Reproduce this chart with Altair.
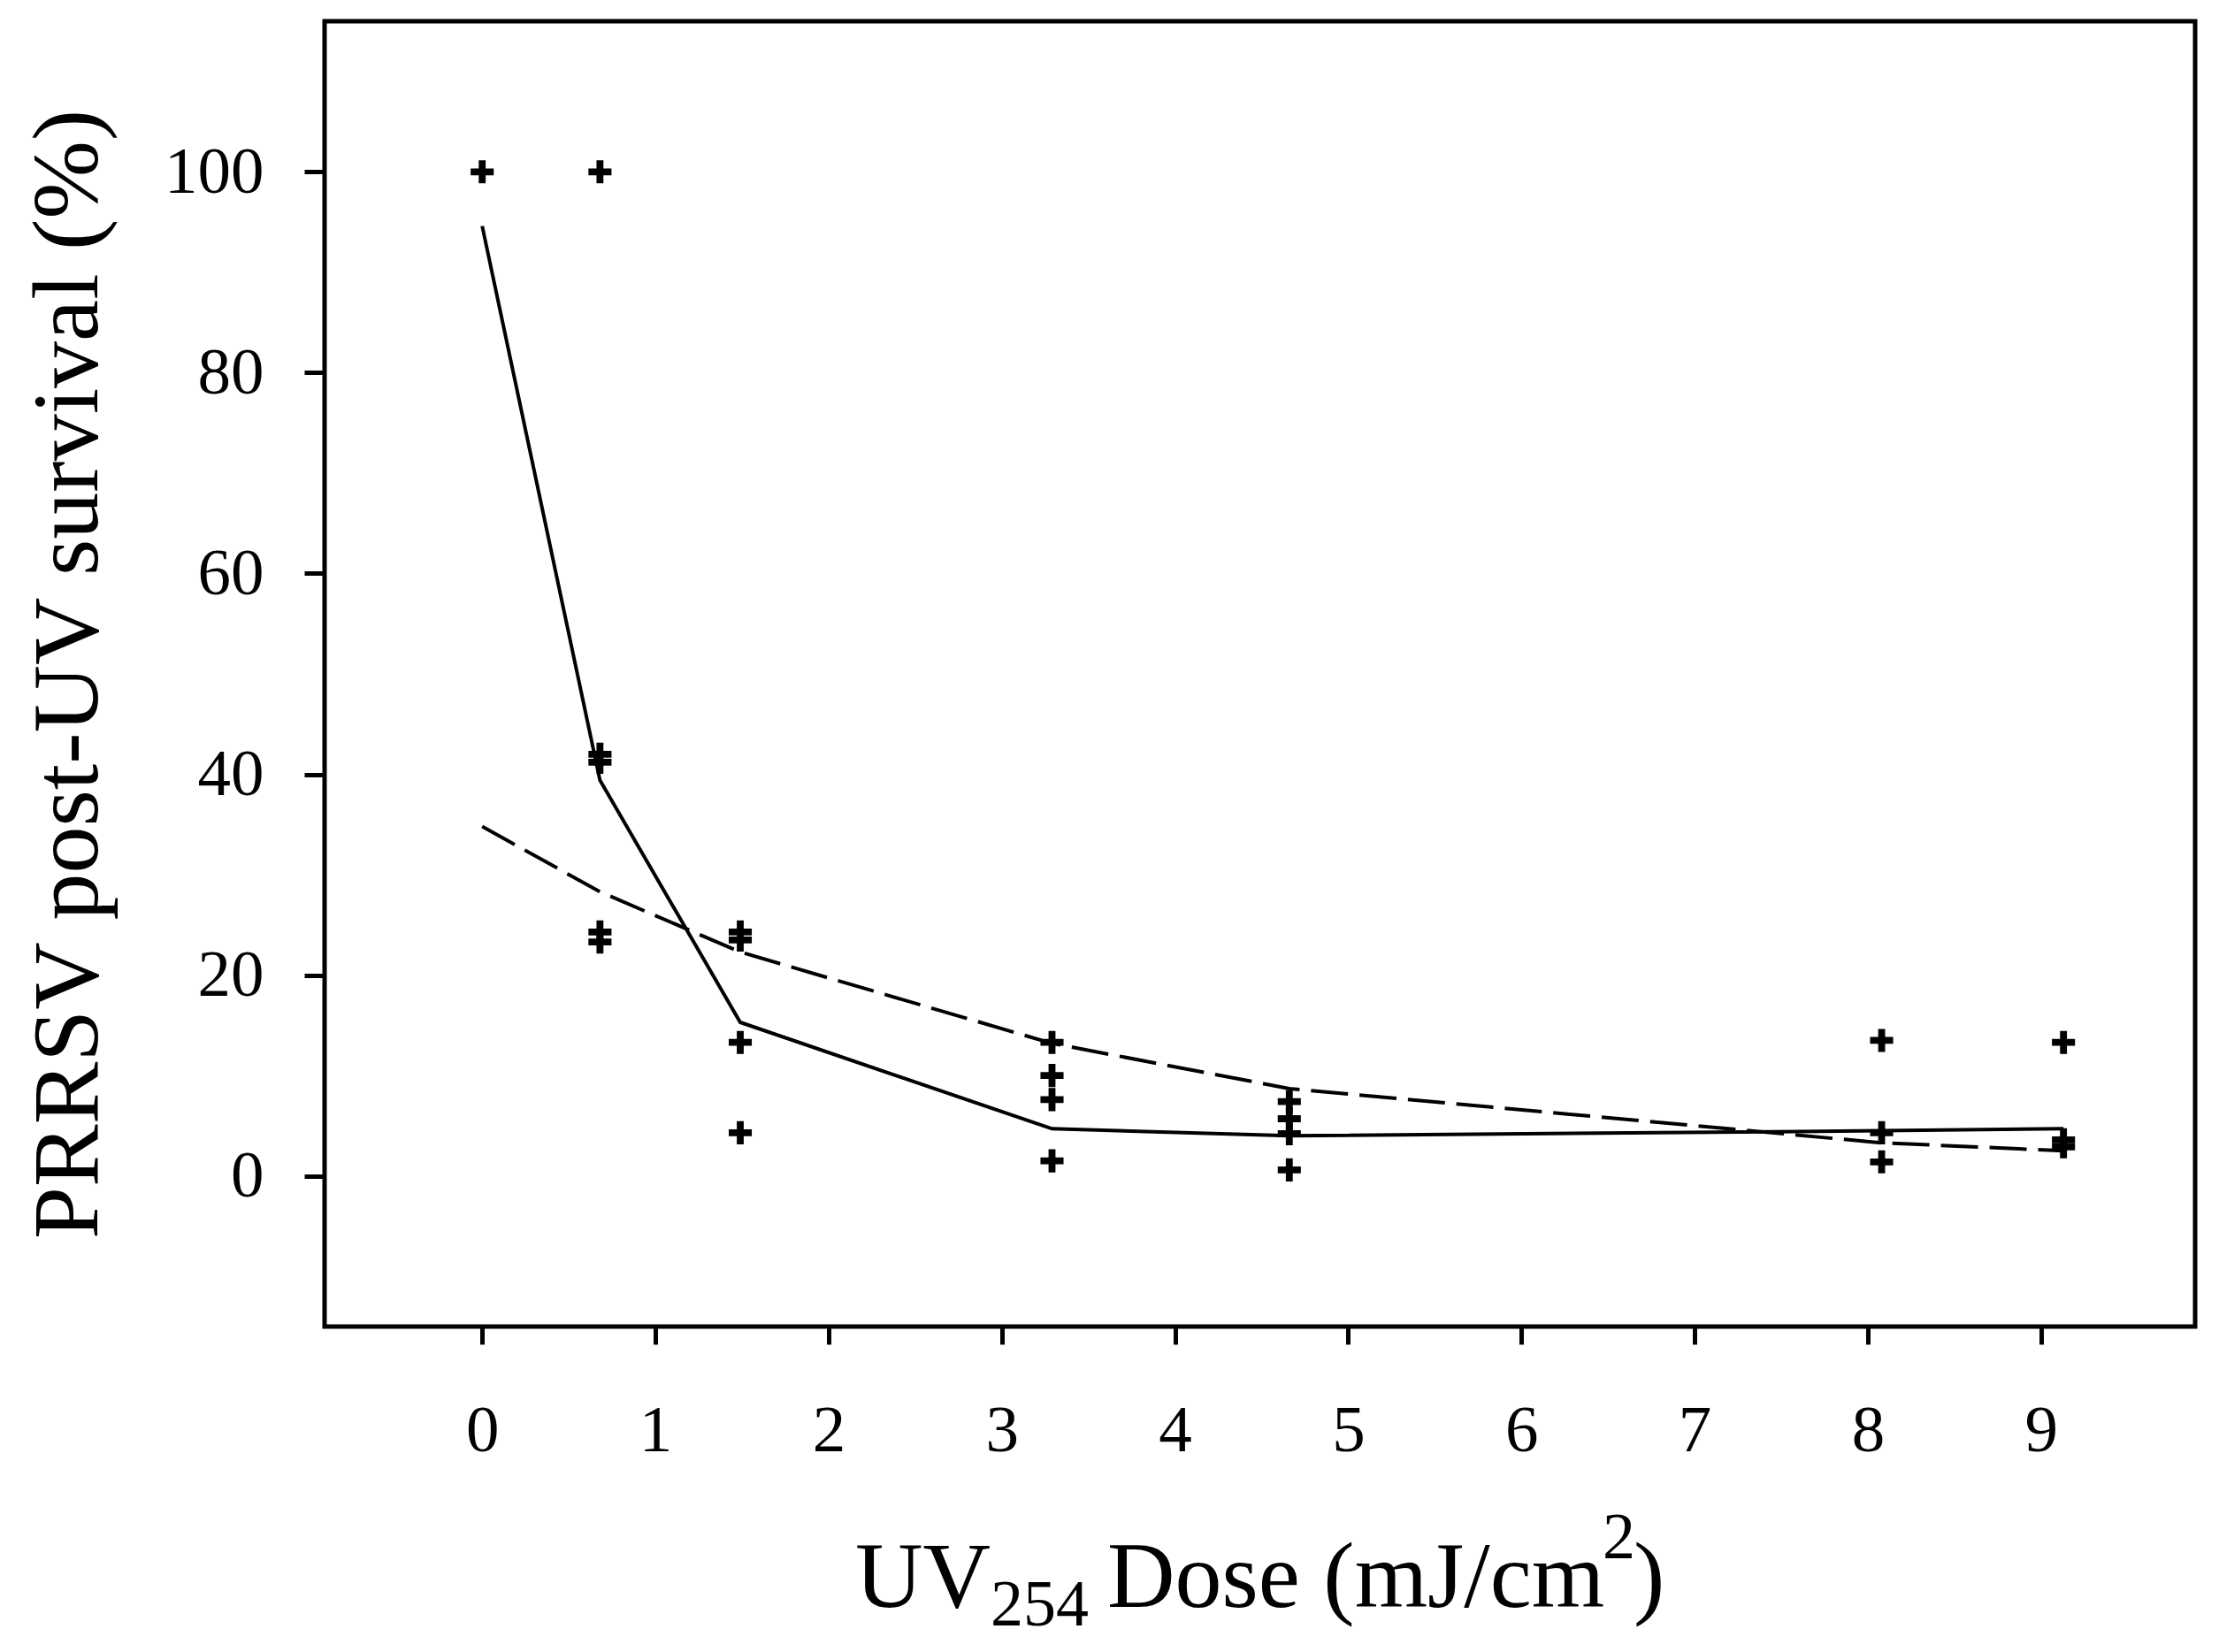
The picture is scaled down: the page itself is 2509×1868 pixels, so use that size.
import altair as alt
import pandas as pd

# ---- data ----
pt_dose = [0.0,
           0.68, 0.68, 0.68, 0.68, 0.68,
           1.49, 1.49, 1.49, 1.49,
           3.29, 3.29, 3.29, 3.29,
           4.66, 4.66, 4.66, 4.66,
           8.08, 8.08, 8.08,
           9.13, 9.13, 9.13]
pt_surv = [100.0,
           100.0, 42.0, 41.2, 24.3, 23.3,
           24.3, 23.5, 13.3, 4.3,
           13.3, 10.0, 7.6, 1.5,
           7.4, 5.7, 4.2, 0.6,
           13.5, 4.3, 1.4,
           13.3, 3.6, 2.9]

line_dose = [0.0, 0.68, 1.49, 3.29, 4.66, 8.08, 9.13]
solid_surv = [94.6, 39.4, 15.3, 4.7, 4.0, 4.5, 4.7]
dashed_surv = [34.8, 28.3, 22.3, 13.2, 8.7, 3.3, 2.5]

x_ticks = [0, 1, 2, 3, 4, 5, 6, 7, 8, 9]
y_ticks = [0, 20, 40, 60, 80, 100]

y_title = "PRRSV post-UV survival (%)"
x_title_parts = ["UV", "254", "Dose (mJ/cm", "2", ")"]

# ---- tables ----
points = pd.DataFrame({"dose": pt_dose, "surv": pt_surv})
solid = pd.DataFrame({"dose": line_dose, "surv": solid_surv})
dashed = pd.DataFrame({"dose": line_dose, "surv": dashed_surv})

FONT = "Liberation Serif"
W, H = 2115, 1476

xscale = alt.Scale(domain=[-0.91, 9.89], nice=False, zero=False)
yscale = alt.Scale(domain=[-15, 115], nice=False, zero=False)

xaxis = alt.Axis(values=x_ticks, title=None, grid=False, domain=False,
                 ticks=True, tickSize=20, tickWidth=5, tickColor="black",
                 labelFont=FONT, labelFontSize=75, labelColor="black",
                 labelPadding=61, labelFlush=False, format="d")
yaxis = alt.Axis(values=y_ticks, title=y_title, grid=False, domain=False,
                 ticks=True, tickSize=23, tickWidth=5, tickColor="black",
                 labelFont=FONT, labelFontSize=75, labelColor="black",
                 labelPadding=46, format="d",
                 titleFont=FONT, titleFontSize=106, titleFontWeight="normal",
                 titleColor="black", titleX=-258, titleY=738, titleAngle=270,
                 titleAlign="center", titleBaseline="alphabetic")

cross_path = "M-1,-0.3H-0.3V-1H0.3V-0.3H1V0.3H0.3V1H-0.3V0.3H-1Z"

pts = alt.Chart(points).mark_point(
    shape=cross_path, size=680, filled=True, fill="black", opacity=1,
    strokeWidth=0
).encode(
    x=alt.X("dose:Q", scale=xscale, axis=xaxis),
    y=alt.Y("surv:Q", scale=yscale, axis=yaxis),
)

solid_line = alt.Chart(solid).mark_line(color="black", strokeWidth=4).encode(
    x=alt.X("dose:Q", scale=xscale),
    y=alt.Y("surv:Q", scale=yscale),
    order="dose:Q",
)

dashed_line = alt.Chart(dashed).mark_line(
    color="black", strokeWidth=4, strokeDash=[42, 13]
).encode(
    x=alt.X("dose:Q", scale=xscale),
    y=alt.Y("surv:Q", scale=yscale),
    order="dose:Q",
)


def title_piece(txt, size, px, py):
    return alt.Chart(alt.Data(values=[{}])).mark_text(
        text=txt, font=FONT, fontSize=size, color="black",
        align="left", baseline="alphabetic"
    ).encode(x=alt.value(px), y=alt.value(py))


t1 = title_piece(x_title_parts[0], 106, 600, 1793)
t2 = title_piece(x_title_parts[1], 74, 753, 1814)
t3 = title_piece(x_title_parts[2], 106, 885, 1793)
t4 = title_piece(x_title_parts[3], 74, 1445, 1738)
t5 = title_piece(x_title_parts[4], 106, 1480, 1793)

chart = alt.layer(
    solid_line, dashed_line, pts, t1, t2, t3, t4, t5
).properties(
    width=W, height=H,
    autosize=alt.AutoSizeParams(type="none"),
    padding={"left": 359, "top": 16, "right": 16, "bottom": 356},
    background="white",
).configure_view(
    stroke="black", strokeWidth=5
)

chart.save("out.html", embed_options={"renderer": "svg", "actions": False})
